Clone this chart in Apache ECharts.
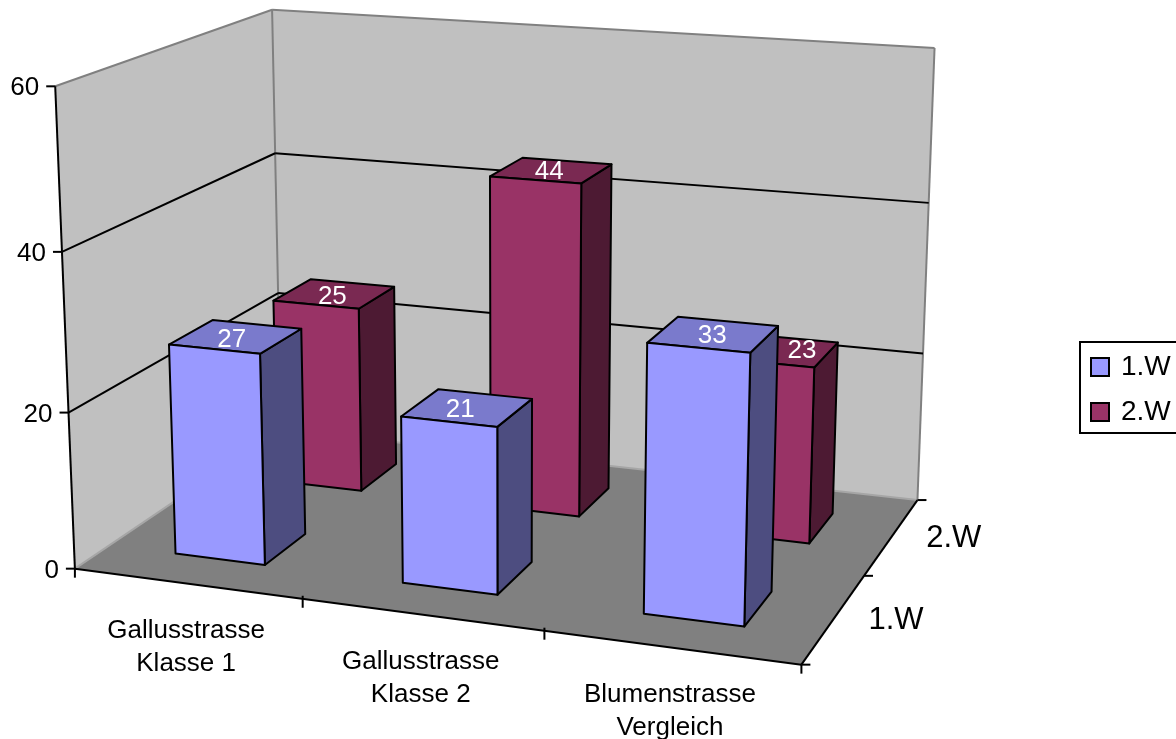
<!DOCTYPE html>
<html>
<head>
<meta charset="utf-8">
<style>
  html, body { margin: 0; padding: 0; background: #fff; }
  #chart { width: 1176px; height: 739px; overflow: hidden; }
</style>
</head>
<body>
<div id="chart"></div>
<script src="https://cdn.jsdelivr.net/npm/echarts@6/dist/echarts.min.js"></script>
<script>
// 数据
var categories = ['Gallusstrasse\nKlasse 1', 'Gallusstrasse\nKlasse 2', 'Blumenstrasse\nVergleich']
var rows = ['1.W', '2.W']
var week1 = [27, 21, 33]
var week2 = [25, 44, 23]
var valueTicks = [0, 20, 40, 60]

var FONT = '"Liberation Sans", Arial, sans-serif'
// 柱子在每格里占的范围
var BAR_FROM = 0.3, BAR_TO = 0.7
var DEPTH_FROM = 0.3, DEPTH_TO = 0.7
var colors1 = { front: '#9999ff', top: '#7a7acc', side: '#4d4d80' }
var colors2 = { front: '#993366', top: '#7a2952', side: '#4d1a33' }
// 数据标签相对顶面中心的微调
var labelShift1 = [[-4, 3], [-7, 2], [-1, 1]]
var labelShift2 = [[-2, 3], [-2, 1], [23, 0]]

// 透视标定：图框的角点 [类目x, 深度z, 数值y, 屏幕x, 屏幕y]
var frameMarks = [
  [0, 0, 0, 75, 569], [0, 0, 20, 68, 414], [0, 0, 40, 62, 252], [0, 0, 60, 56, 85],
  [0, 2, 0, 281, 428], [0, 2, 20, 278, 293], [0, 2, 40, 275, 154], [0, 2, 60, 272, 10],
  [3, 2, 0, 919, 500], [3, 2, 20, 922, 354], [3, 2, 40, 928, 204], [3, 2, 60, 935, 47],
  [3, 0, 0, 801, 664]
]

// 最小二乘解投影矩阵
function solveCamera(marks) {
  var n = 11, A = [], i, j, k
  for (i = 0; i < n; i++) { A.push([]); for (j = 0; j <= n; j++) A[i].push(0) }
  function add(r, b) {
    for (var a = 0; a < n; a++) {
      for (var c = 0; c < n; c++) A[a][c] += r[a] * r[c]
      A[a][n] += r[a] * b
    }
  }
  marks.forEach(function (m) {
    var X = m[0], Z = m[1], Y = m[2] / 20, u = m[3], v = m[4]
    add([X, Y, Z, 1, 0, 0, 0, 0, -u * X, -u * Y, -u * Z], u)
    add([0, 0, 0, 0, X, Y, Z, 1, -v * X, -v * Y, -v * Z], v)
  })
  for (i = 0; i < n; i++) {
    var best = i
    for (k = i + 1; k < n; k++) if (Math.abs(A[k][i]) > Math.abs(A[best][i])) best = k
    var t = A[i]; A[i] = A[best]; A[best] = t
    for (k = 0; k < n; k++) {
      if (k === i) continue
      var f = A[k][i] / A[i][i]
      for (j = i; j <= n; j++) A[k][j] -= f * A[i][j]
    }
  }
  return A.map(function (r, idx) { return r[n] / r[idx] })
}
var cam = solveCamera(frameMarks)

// 隐藏的平面直角坐标系：x 0~3，y 0~60，数值先过 ECharts 的比例尺再做透视
var GRID_W = 300, GRID_H = 600
function project(api, x, z, y) {
  var c = api.coord([x, y])
  var X = c[0] / (GRID_W / 3)
  var Y = (GRID_H - c[1]) / (GRID_H / 3)
  var w = cam[8] * X + cam[9] * Y + cam[10] * z + 1
  return [
    (cam[0] * X + cam[1] * Y + cam[2] * z + cam[3]) / w,
    (cam[4] * X + cam[5] * Y + cam[6] * z + cam[7]) / w
  ]
}

function poly(points, fill, stroke, lw) {
  return {
    type: 'polygon',
    shape: { points: points },
    style: { fill: fill, stroke: stroke || null, lineWidth: lw || 0, lineJoin: 'round' }
  }
}
function line(a, b, color, lw) {
  return {
    type: 'line',
    shape: { x1: a[0], y1: a[1], x2: b[0], y2: b[1] },
    style: { stroke: color, lineWidth: lw }
  }
}
function label(text, p, size, align, color) {
  return {
    type: 'text',
    style: {
      text: text, x: p[0], y: p[1], fill: color || '#000',
      font: size + 'px ' + FONT, align: align || 'center', verticalAlign: 'middle', lineHeight: 33
    }
  }
}

// 墙、地板、坐标轴
function renderFrame(params, api) {
  var kids = []
  var P = function (x, z, y) { return project(api, x, z, y) }
  var maxV = valueTicks[valueTicks.length - 1]
  var depth = rows.length, width = categories.length

  kids.push(poly([P(0, 0, 0), P(0, 0, maxV), P(0, depth, maxV), P(0, depth, 0)], '#c0c0c0'))
  kids.push(poly([P(0, depth, 0), P(0, depth, maxV), P(width, depth, maxV), P(width, depth, 0)], '#c0c0c0'))
  kids.push(poly([P(0, 0, 0), P(0, depth, 0), P(width, depth, 0), P(width, 0, 0)], '#808080'))

  // 灰色边线
  kids.push(line(P(0, 0, maxV), P(0, depth, maxV), '#808080', 2))
  kids.push(line(P(0, depth, maxV), P(width, depth, maxV), '#808080', 2))
  kids.push(line(P(0, depth, 0), P(0, depth, maxV), '#808080', 2))
  kids.push(line(P(width, depth, 0), P(width, depth, maxV), '#808080', 2))
  kids.push(line(P(0, 0, 0), P(0, depth, 0), '#a6a6a6', 2))
  kids.push(line(P(0, depth, 0), P(width, depth, 0), '#a6a6a6', 2))

  // 网格线和数值刻度
  valueTicks.forEach(function (v) {
    if (v > 0 && v < maxV) {
      kids.push(line(P(0, 0, v), P(0, depth, v), '#000', 2))
      kids.push(line(P(0, depth, v), P(width, depth, v), '#000', 2))
    }
    var a = P(0, 0, v)
    kids.push(line([a[0] - 9, a[1]], a, '#000', 2))
    kids.push(label(String(v), [a[0] - 16, a[1] + 2], 26, 'right'))
  })

  // 三条轴线
  kids.push(line(P(0, 0, 0), P(0, 0, maxV), '#000', 2))
  kids.push(line(P(0, 0, 0), P(width, 0, 0), '#000', 2))
  kids.push(line(P(width, 0, 0), P(width, depth, 0), '#000', 2))

  // 类目刻度和文字
  for (var i = 0; i <= width; i++) {
    var t = P(i, 0, 0)
    kids.push(line([t[0], t[1] - (i > 0 && i < width ? 3 : 0)], [t[0], t[1] + 9], '#000', 2))
  }
  categories.forEach(function (name, idx) {
    var c = P(idx + 0.5, 0, 0)
    kids.push(label(name, [c[0] - 1, c[1] + 64], 26))
  })

  // 深度刻度和文字
  for (var r = 0; r <= depth; r++) {
    var d = P(width, r, 0)
    kids.push(line(d, [d[0] + 9, d[1]], '#000', 2))
  }
  rows.forEach(function (name, idx) {
    var c = P(width, idx + 0.5, 0)
    kids.push(label(name, [c[0] + 62, c[1] + 2], 31))
  })
  return { type: 'group', children: kids }
}

// 一根柱子：正面、顶面、侧面
function barRenderer(row, palette, shifts) {
  return function (params, api) {
    var i = api.value(0), v = api.value(1)
    var x0 = i + BAR_FROM, x1 = i + BAR_TO
    var z0 = row + DEPTH_FROM, z1 = row + DEPTH_TO
    var P = function (x, z, y) { return project(api, x, z, y) }
    var c = P((x0 + x1) / 2, (z0 + z1) / 2, v)
    return {
      type: 'group',
      children: [
        poly([P(x1, z0, 0), P(x1, z1, 0), P(x1, z1, v), P(x1, z0, v)], palette.side, '#000', 2),
        poly([P(x0, z0, v), P(x1, z0, v), P(x1, z1, v), P(x0, z1, v)], palette.top, '#000', 2),
        poly([P(x0, z0, 0), P(x1, z0, 0), P(x1, z0, v), P(x0, z0, v)], palette.front, '#000', 2),
        label(String(v), [c[0] + shifts[i][0], c[1] + shifts[i][1]], 26, 'center', '#fff')
      ]
    }
  }
}

function toRows(values) {
  return values.map(function (v, i) { return [i, v] })
}

var option = {
  animation: false,
  backgroundColor: '#fff',
  grid: { left: 0, top: 0, width: GRID_W, height: GRID_H, show: false },
  xAxis: { type: 'value', min: 0, max: 3, show: false },
  yAxis: { type: 'value', min: 0, max: 60, interval: 20, show: false },
  legend: {
    data: rows,
    orient: 'vertical',
    left: 1080,
    top: 342,
    padding: [10, 14, 6, 10],
    itemWidth: 18,
    itemHeight: 18,
    itemGap: 15,
    icon: 'rect',
    selectedMode: false,
    borderColor: '#000',
    borderWidth: 2,
    itemStyle: { borderColor: '#000', borderWidth: 2 },
    textStyle: { fontFamily: FONT, fontSize: 28, color: '#000', lineHeight: 28, padding: [2, 0, 0, 7] }
  },
  series: [
    { name: 'frame', type: 'custom', silent: true, data: [[0, 0]], renderItem: renderFrame },
    { name: '2.W', type: 'custom', silent: true, data: toRows(week2), itemStyle: { color: colors2.front }, renderItem: barRenderer(1, colors2, labelShift2) },
    { name: '1.W', type: 'custom', silent: true, data: toRows(week1), itemStyle: { color: colors1.front }, renderItem: barRenderer(0, colors1, labelShift1) }
  ]
}
var myChart = echarts.init(document.getElementById('chart'))
myChart.setOption(option)
</script>
</body>
</html>
